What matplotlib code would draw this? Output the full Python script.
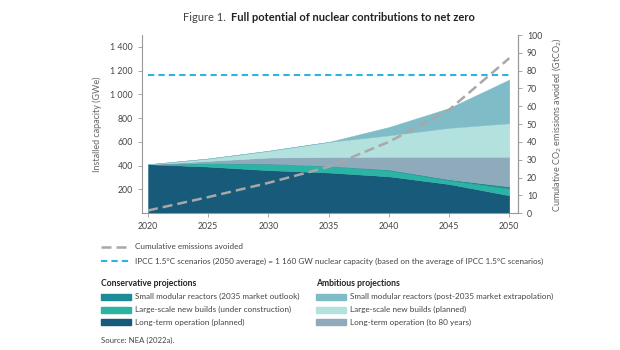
import numpy as np
import matplotlib
matplotlib.use('Agg')
import matplotlib.pyplot as plt
from matplotlib.lines import Line2D
from matplotlib.patches import Rectangle
from matplotlib.ticker import FuncFormatter

plt.rcParams['font.family'] = ['Lato', 'DejaVu Sans']

# data (GWe, stacked layers, bottom to top)
years = [2020, 2025, 2030, 2035, 2040, 2045, 2050]
lto_planned = [412, 392, 362, 342, 310, 245, 150]
large_uc = [0, 28, 55, 55, 52, 32, 57]
smr_cons = [0, 0, 0, 0, 5, 8, 18]
lto_80 = [0, 20, 51, 76, 108, 190, 250]
large_planned = [0, 20, 57, 127, 180, 243, 282]
smr_amb = [0, 0, 0, 0, 70, 167, 368]
# cumulative emissions avoided (GtCO2)
emissions = [1.5, 9, 17, 26, 40, 58, 87]
ipcc_capacity = 1160

left_ticks = [200, 400, 600, 800, 1000, 1200, 1400]
right_ticks = [0, 10, 20, 30, 40, 50, 60, 70, 80, 90, 100]
x_ticks = [2020, 2025, 2030, 2035, 2040, 2045, 2050]

cons_labels = ['Small modular reactors (2035 market outlook)',
               'Large-scale new builds (under construction)',
               'Long-term operation (planned)']
amb_labels = ['Small modular reactors (post-2035 market extrapolation)',
              'Large-scale new builds (planned)',
              'Long-term operation (to 80 years)']

c_lto = '#175a79'
c_large_uc = '#2bb3a3'
c_smr_cons = '#1c8c98'
c_lto80 = '#8eaabb'
c_large_pl = '#b3e1de'
c_smr_amb = '#80bcc7'
c_grey = '#a8a8a8'
c_blue = '#2db3e0'
txt = '#444444'

fig = plt.figure(figsize=(6.2, 3.5), dpi=100)
ax = fig.add_axes([0.229, 0.391, 0.606, 0.509])

layers = [lto_planned, large_uc, smr_cons, lto_80, large_planned, smr_amb]
cols = [c_lto, c_large_uc, c_smr_cons, c_lto80, c_large_pl, c_smr_amb]
polys = ax.stackplot(years, layers, colors=cols, linewidth=0.3)
for p, c in zip(polys, cols):
    p.set_edgecolor(c)

ax.plot([2020, 2050], [ipcc_capacity, ipcc_capacity], color=c_blue, lw=1.5,
        dashes=(3, 2))

ax.set_xlim(2019.5, 2050.7)
ax.set_ylim(0, 1500)
ax.set_xticks(x_ticks)
ax.set_yticks(left_ticks)
ax.yaxis.set_major_formatter(FuncFormatter(lambda v, p: '{:,}'.format(int(v)).replace(',', ' ')))
ax.set_ylabel('Installed capacity (GWe)', fontsize=6.5, color='#666666', labelpad=6)

ax2 = ax.twinx()
ax2.plot(years, emissions, color=c_grey, lw=1.8, dashes=(4, 2))
ax2.set_ylim(0, 100)
ax2.set_yticks(right_ticks)
ax2.set_ylabel('Cumulative CO$_2$ emissions avoided (GtCO$_2$)', fontsize=6.5,
               color='#666666', labelpad=6)

for a in (ax, ax2):
    a.spines['top'].set_visible(False)
    for s in a.spines.values():
        s.set_color('#999999')
        s.set_linewidth(0.8)
    a.tick_params(labelsize=6.3, colors='#999999', labelcolor=txt, length=3, width=0.6)
ax2.spines['left'].set_visible(False)
ax2.spines['bottom'].set_visible(False)

# title
fig.text(0.295, 0.951, 'Figure 1.', fontsize=8, color=txt, va='center', ha='left')
fig.text(0.372, 0.951, 'Full potential of nuclear contributions to net zero',
         fontsize=8, color='#222222', fontweight='bold', va='center', ha='left')

W, H = 620.0, 350.0
def fx(px):
    return px / W
def fy(py):
    return 1 - py / H

# line legend
for py, col, d, lw, lab in [
        (246.5, c_grey, (4, 2), 1.8, 'Cumulative emissions avoided'),
        (261, c_blue, (3, 2), 1.5,
         'IPCC 1.5°C scenarios (2050 average) = 1 160 GW nuclear capacity (based on the average of IPCC 1.5°C scenarios)')]:
    fig.add_artist(Line2D([fx(101), fx(131)], [fy(py), fy(py)], color=col, lw=lw, dashes=d))
    fig.text(fx(135), fy(py), lab, fontsize=5.9, color=txt, va='center', ha='left')

# patch legends
fig.text(fx(101), fy(284), 'Conservative projections', fontsize=6.2, fontweight='bold',
         color='#222222', va='center', ha='left')
fig.text(fx(316), fy(284), 'Ambitious projections', fontsize=6.2, fontweight='bold',
         color='#222222', va='center', ha='left')
for i, py in enumerate([296.7, 309.5, 322]):
    for x0, lab, col in [(101, cons_labels[i], [c_smr_cons, c_large_uc, c_lto][i]),
                         (316, amb_labels[i], [c_smr_amb, c_large_pl, c_lto80][i])]:
        fig.add_artist(Rectangle((fx(x0), fy(py + 3)), 30 / W, 6 / H, color=col,
                                 transform=fig.transFigure))
        fig.text(fx(x0 + 34), fy(py), lab, fontsize=5.9, color=txt, va='center', ha='left')

fig.text(fx(101), fy(340.5), 'Source: NEA (2022a).', fontsize=5.6, color=txt,
         va='center', ha='left')

fig.savefig('out.png', dpi=100, facecolor='white')
